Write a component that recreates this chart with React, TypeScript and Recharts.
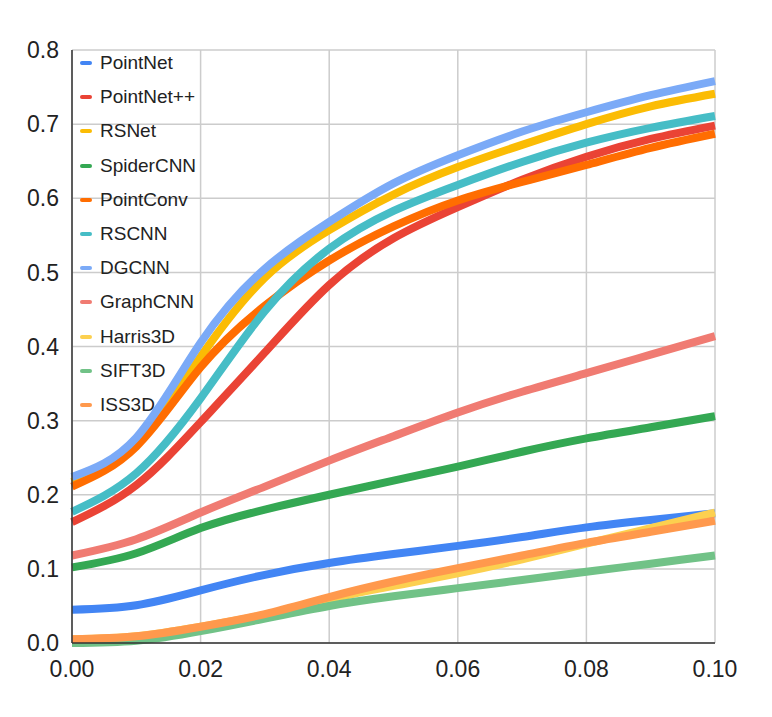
import { LineChart, Line, XAxis, YAxis, CartesianGrid, Legend } from "recharts";

const xValues = [0, 0.01, 0.02, 0.03, 0.04, 0.05, 0.06, 0.07, 0.08, 0.09, 0.1];

const pointNet = [0.045, 0.051, 0.071, 0.092, 0.108, 0.12, 0.131, 0.143, 0.156, 0.166, 0.175];
const pointNetPP = [0.163, 0.213, 0.298, 0.392, 0.483, 0.546, 0.588, 0.625, 0.656, 0.68, 0.698];
const rsNet = [0.217, 0.27, 0.386, 0.493, 0.557, 0.605, 0.642, 0.672, 0.7, 0.724, 0.741];
const spiderCNN = [0.102, 0.121, 0.155, 0.18, 0.2, 0.219, 0.238, 0.258, 0.276, 0.291, 0.306];
const pointConv = [0.211, 0.265, 0.372, 0.455, 0.516, 0.562, 0.597, 0.622, 0.645, 0.668, 0.687];
const rsCNN = [0.177, 0.229, 0.33, 0.448, 0.532, 0.583, 0.618, 0.649, 0.675, 0.695, 0.711];
const dgCNN = [0.224, 0.277, 0.405, 0.505, 0.568, 0.62, 0.658, 0.69, 0.716, 0.739, 0.758];
const graphCNN = [0.118, 0.14, 0.176, 0.211, 0.246, 0.279, 0.311, 0.339, 0.364, 0.389, 0.414];
const harris3D = [0.005, 0.009, 0.022, 0.038, 0.059, 0.077, 0.094, 0.113, 0.134, 0.155, 0.176];
const sift3D = [0.0, 0.003, 0.016, 0.033, 0.05, 0.063, 0.074, 0.085, 0.096, 0.107, 0.118];
const iss3D = [0.005, 0.009, 0.022, 0.039, 0.062, 0.083, 0.101, 0.118, 0.135, 0.15, 0.165];

const xTicks = [0, 0.02, 0.04, 0.06, 0.08, 0.1];
const yTicks = [0, 0.1, 0.2, 0.3, 0.4, 0.5, 0.6, 0.7, 0.8];

const series = [
  { key: "PointNet", values: pointNet, color: "#4285f4" },
  { key: "PointNet++", values: pointNetPP, color: "#ea4335" },
  { key: "RSNet", values: rsNet, color: "#fbbc04" },
  { key: "SpiderCNN", values: spiderCNN, color: "#34a853" },
  { key: "PointConv", values: pointConv, color: "#ff6d01" },
  { key: "RSCNN", values: rsCNN, color: "#46bdc6" },
  { key: "DGCNN", values: dgCNN, color: "#7baaf7" },
  { key: "GraphCNN", values: graphCNN, color: "#f07b72" },
  { key: "Harris3D", values: harris3D, color: "#fcd04f" },
  { key: "SIFT3D", values: sift3D, color: "#71c287" },
  { key: "ISS3D", values: iss3D, color: "#ff994d" },
];

const data = xValues.map((x, i) => {
  const row: Record<string, number> = { x };
  series.forEach((s) => {
    row[s.key] = s.values[i];
  });
  return row;
});

const FONT = "Arial, 'Liberation Sans', sans-serif";

function LegendBox() {
  return (
    <div style={{ fontFamily: FONT, fontSize: 19, color: "#222" }}>
      {series.map((s) => (
        <div
          key={s.key}
          style={{ display: "flex", alignItems: "center", height: 34.2, whiteSpace: "nowrap" }}
        >
          <span
            style={{
              display: "inline-block",
              width: 12,
              height: 4,
              borderRadius: 2,
              background: s.color,
              marginRight: 8,
            }}
          />
          <span>{s.key}</span>
        </div>
      ))}
    </div>
  );
}

export default function App() {
  return (
    <LineChart
      width={756}
      height={700}
      data={data}
      margin={{ top: 42, right: 49, left: 0, bottom: 25 }}
    >
      <CartesianGrid stroke="#cccccc" strokeWidth={1.5} />
      <XAxis
        dataKey="x"
        type="number"
        domain={[0, 0.1]}
        ticks={xTicks}
        tickFormatter={(v: number) => v.toFixed(2)}
        tickLine={false}
        tickSize={6}
        tickMargin={12}
        height={40}
        axisLine={{ stroke: "#333333", strokeWidth: 1.5 }}
        tick={{ fill: "#222", fontSize: 23, fontFamily: FONT }}
      />
      <YAxis
        type="number"
        domain={[0, 0.8]}
        ticks={yTicks}
        tickFormatter={(v: number) => v.toFixed(1)}
        tickLine={false}
        tickMargin={7}
        width={64}
        axisLine={{ stroke: "#333333", strokeWidth: 1.5 }}
        tick={{ fill: "#222", fontSize: 23, fontFamily: FONT }}
      />
      <Legend
        layout="vertical"
        align="center"
        verticalAlign="middle"
        wrapperStyle={{ left: 72, top: 38, width: 160 }}
        content={() => <LegendBox />}
      />
      {series.map((s) => (
        <Line
          key={s.key}
          type="natural"
          dataKey={s.key}
          stroke={s.color}
          strokeWidth={8}
          dot={false}
          activeDot={false}
          isAnimationActive={false}
        />
      ))}
    </LineChart>
  );
}
